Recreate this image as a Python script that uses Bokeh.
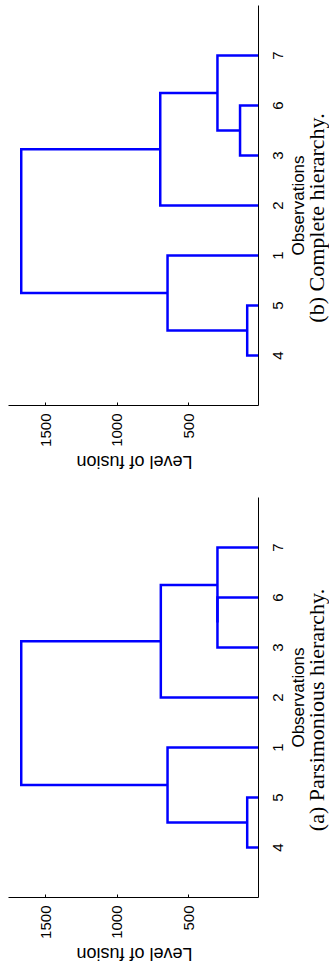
import math
from bokeh.plotting import figure
from bokeh.models import Range1d, FixedTicker, LinearAxis
from bokeh.core.properties import value
from bokeh.layouts import column, row
from bokeh.embed import file_html
from bokeh.resources import INLINE

# leaf order along the observation axis
obs_order = [4, 5, 1, 2, 3, 6, 7]
obs_labels = ["4", "5", "1", "2", "3", "6", "7"]

# linkage rows: leaves are 1..7, merged clusters are 8, 9, ...
link_left = [4, 3, 9, 8, 2, 11]
link_right = [5, 6, 7, 1, 10, 12]
fusion_parsimonious = [93, 301, 301, 650, 697, 1673]
fusion_complete = [93, 143, 301, 650, 701, 1673]

level_ticks = [500, 1000, 1500]

caption_a = "(a) Parsimonious hierarchy."
caption_b = "(b) Complete hierarchy."

SANS = "Liberation Sans"
SERIF = "Liberation Serif"

LEVEL_START, LEVEL_END = 1762, 14
N_SLOTS = 8

PAGE_W = 329
FRAME_L = 8
FRAME_W = 250
MAIN_R = 6
MAIN_W = FRAME_L + FRAME_W + MAIN_R
SIDE_W = PAGE_W - MAIN_W
FRAME_H = 400
TICK_AREA = 45


def dendro_lines(left, right, heights):
    pos = {leaf: i + 1 for i, leaf in enumerate(obs_order)}
    hgt = {leaf: 0 for leaf in obs_order}
    xs, ys = [], []
    for k, (a, b, h) in enumerate(zip(left, right, heights)):
        node = 8 + k
        xs.append([hgt[a], h, h, hgt[b]])
        ys.append([pos[a], pos[a], pos[b], pos[b]])
        pos[node] = (pos[a] + pos[b]) / 2
        hgt[node] = h
    return xs, ys


def bare(p):
    p.grid.visible = False
    p.outline_line_color = None
    p.background_fill_color = "white"
    p.border_fill_color = "white"


def make_panel(caption, heights, top_border, label_h):
    main_h = top_border + FRAME_H + TICK_AREA
    total_h = main_h + label_h
    px_lvl = FRAME_W / (LEVEL_START - LEVEL_END)
    px_pos = FRAME_H / N_SLOTS

    p = figure(width=MAIN_W, height=main_h,
               x_range=Range1d(LEVEL_START, LEVEL_END), y_range=Range1d(0, N_SLOTS),
               output_backend="svg", toolbar_location=None,
               x_axis_location=None, y_axis_location=None,
               min_border_left=FRAME_L, min_border_right=MAIN_R,
               min_border_top=top_border, min_border_bottom=TICK_AREA)
    bare(p)

    xs, ys = dendro_lines(link_left, link_right, heights)
    p.multi_line(xs, ys, line_color="#0000ff", line_width=2.5, line_join="miter")

    xa = LinearAxis(ticker=FixedTicker(ticks=level_ticks))
    xa.major_label_orientation = math.pi / 2
    xa.major_tick_in = 3
    xa.major_tick_out = 0
    xa.minor_tick_line_color = None
    xa.major_label_standoff = 8
    xa.major_label_text_font = SANS
    xa.major_label_text_font_size = "15px"
    xa.axis_line_color = "black"
    xa.major_tick_line_color = "black"
    xa.major_label_text_color = "black"
    p.add_layout(xa, "below")

    # observation axis line (its labels are drawn in the side strip)
    ya = LinearAxis(ticker=FixedTicker(ticks=[]))
    ya.major_tick_line_color = None
    ya.minor_tick_line_color = None
    ya.major_label_standoff = 0
    ya.axis_line_color = "black"
    p.add_layout(ya, "right")

    # strip under the tick labels: "Level of fusion", upside down
    lab = figure(width=MAIN_W, height=label_h,
                 x_range=Range1d(LEVEL_START + FRAME_L / px_lvl, LEVEL_END - MAIN_R / px_lvl),
                 y_range=Range1d(0, label_h),
                 output_backend="svg", toolbar_location=None,
                 x_axis_location=None, y_axis_location=None, min_border=0)
    bare(lab)
    lab.text(x=[(LEVEL_START + LEVEL_END) / 2], y=[label_h - 11.5], text=["Level of fusion"],
             angle=math.pi, text_align="center", text_baseline="middle",
             text_font=value(SANS), text_font_size="18px", text_color="black")

    # strip right of the frame: observation labels, axis title, caption
    frame_bottom = top_border + FRAME_H
    side = figure(width=SIDE_W, height=total_h,
                  x_range=Range1d(MAIN_W, PAGE_W),
                  y_range=Range1d(-(total_h - frame_bottom) / px_pos, frame_bottom / px_pos),
                  output_backend="svg", toolbar_location=None,
                  x_axis_location=None, y_axis_location=None, min_border=0)
    bare(side)
    n = len(obs_labels)
    side.text(x=[277] * n, y=list(range(1, n + 1)), text=obs_labels,
              angle=math.pi / 2, text_align="center", text_baseline="middle",
              text_font=value(SANS), text_font_size="15px", text_color="black")
    mid = N_SLOTS / 2
    side.text(x=[298], y=[mid], text=["Observations"],
              angle=math.pi / 2, text_align="center", text_baseline="middle",
              text_font=value(SANS), text_font_size="17px", text_color="black")
    side.text(x=[316], y=[mid - 12.5 / px_pos], text=[caption],
              angle=math.pi / 2, text_align="center", text_baseline="middle",
              text_font=value(SERIF), text_font_size="22px", text_color="black")

    return row(column(p, lab), side)


panel_b = make_panel(caption_b, fusion_complete, 5, 35)
panel_a = make_panel(caption_a, fusion_parsimonious, 12, 29)

layout = column(panel_b, panel_a)
open("out.html", "w").write(file_html(layout, INLINE))
